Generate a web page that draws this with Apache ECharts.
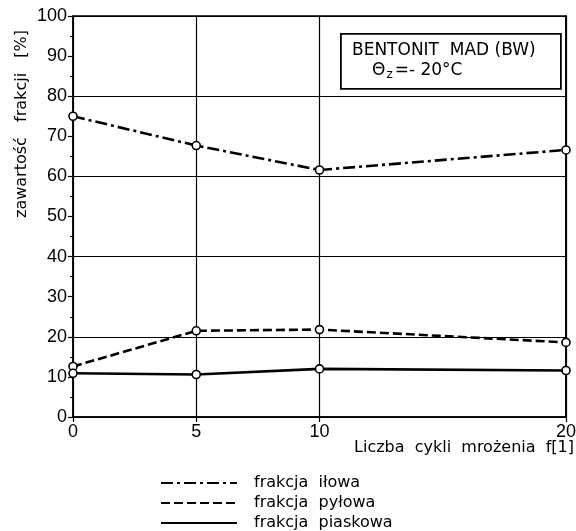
<!DOCTYPE html>
<html><head><meta charset="utf-8">
<script src="https://cdn.jsdelivr.net/npm/echarts@6/dist/echarts.min.js"></script>
<style>html,body{margin:0;padding:0;background:#fff}#c{width:576px;height:531px}</style>
</head><body><div id="c"></div>
<script>
const cycles = [0, 5, 10, 20];
const xTicks = [0, 5, 10, 20];
const ilowa = [75.0, 67.7, 61.6, 66.6];
const pylowa = [12.6, 21.5, 21.8, 18.6];
const piaskowa = [10.9, 10.6, 12.0, 11.6];
const seriesNames = ['frakcja  iłowa', 'frakcja  pyłowa', 'frakcja  piaskowa'];
const xName = 'Liczba  cykli  mrożenia  f[1]';
const yName = 'zawartość   frakcji   [%]';

const font = 'Liberation Sans';
const pair = (v) => cycles.map((c, i) => [c, v[i]]);
const sym = { symbol: 'circle', symbolSize: 8, itemStyle: { color: '#fff', borderColor: '#000', borderWidth: 1.6 } };

const chart = echarts.init(document.getElementById('c'));
chart.setOption({
  animation: false,
  backgroundColor: '#fff',
  grid: { left: 73, right: 10, top: 16, bottom: 114, outerBoundsMode: 'none', containLabel: false, show: true, borderColor: '#000', borderWidth: 1.5, backgroundColor: 'transparent' },
  xAxis: {
    type: 'value', min: 0, max: 20, interval: 5,
    axisLine: { lineStyle: { color: '#000', width: 1.5 } },
    axisTick: { show: true, customValues: xTicks, length: 5, inside: false, lineStyle: { color: '#000', width: 1.2 } },
    axisLabel: { customValues: xTicks, color: '#000', fontSize: 18, fontFamily: font, margin: 6 },
    splitLine: { show: true, lineStyle: { color: '#000', width: 1.2 } }
  },
  yAxis: [{
    type: 'value', min: 0, max: 100, interval: 10,
    axisLine: { show: true, lineStyle: { color: '#000', width: 1.5 } },
    axisTick: { show: true, length: 5, lineStyle: { color: '#000', width: 1.2 } },
    minorTick: { show: true, splitNumber: 2, length: 3, lineStyle: { color: '#000', width: 1 } },
    axisLabel: { color: '#000', fontSize: 18, fontFamily: font, margin: 6 },
    splitLine: { show: false }
  }, {
    type: 'value', min: 0, max: 100, interval: 20, position: 'right',
    axisLine: { show: true, lineStyle: { color: '#000', width: 1.5 } },
    axisTick: { show: false }, axisLabel: { show: false },
    splitLine: { show: true, lineStyle: { color: '#000', width: 1.2 } }
  }],
  legend: {
    orient: 'vertical', left: 160, top: 475, height: 56, padding: 0, itemWidth: 76, itemHeight: 10, itemGap: 4,
    data: seriesNames,
    itemStyle: { opacity: 0 },
    textStyle: { color: '#000', fontSize: 16, lineHeight: 16, fontFamily: 'DejaVu Sans', padding: [0, 0, 0, 12] }
  },
  graphic: [
    { type: 'rect', left: 340, top: 33, shape: { width: 220, height: 55 }, style: { fill: '#fff', stroke: '#000', lineWidth: 1.8 }, z: 10 },
    { type: 'text', left: 352, top: 42, z: 11, style: { text: 'BENTONIT  MAD (BW)', fill: '#000', font: '17px "DejaVu Sans"' } },
    { type: 'text', left: 372, top: 62, z: 11, style: { text: '{a|Θ}{s|z}{a|=- 20°C}', fill: '#000',
      rich: { a: { fontSize: 17, fontFamily: 'DejaVu Sans', fill: '#000' }, s: { fontSize: 12, fontFamily: 'DejaVu Sans', padding: [8, 2, 0, 1], fill: '#000' } } } },
    { type: 'text', right: 2, top: 440, style: { text: xName, fill: '#000', font: '16px "DejaVu Sans"' } },
    { type: 'text', x: 22, y: 124, rotation: Math.PI / 2, style: { text: yName, fill: '#000', font: '16px "DejaVu Sans"', align: 'center', verticalAlign: 'middle' } }
  ],
  series: [
    Object.assign({ name: seriesNames[0], type: 'line', data: pair(ilowa), lineStyle: { color: '#000', width: 2.6, type: [12, 4, 3, 4] }, color: '#000', z: 5 }, sym),
    Object.assign({ name: seriesNames[1], type: 'line', data: pair(pylowa), lineStyle: { color: '#000', width: 2.6, type: [9, 4] }, color: '#000', z: 5 }, sym),
    Object.assign({ name: seriesNames[2], type: 'line', data: pair(piaskowa), lineStyle: { color: '#000', width: 2.6, type: 'solid' }, color: '#000', z: 5 }, sym)
  ]
});
</script></body></html>
